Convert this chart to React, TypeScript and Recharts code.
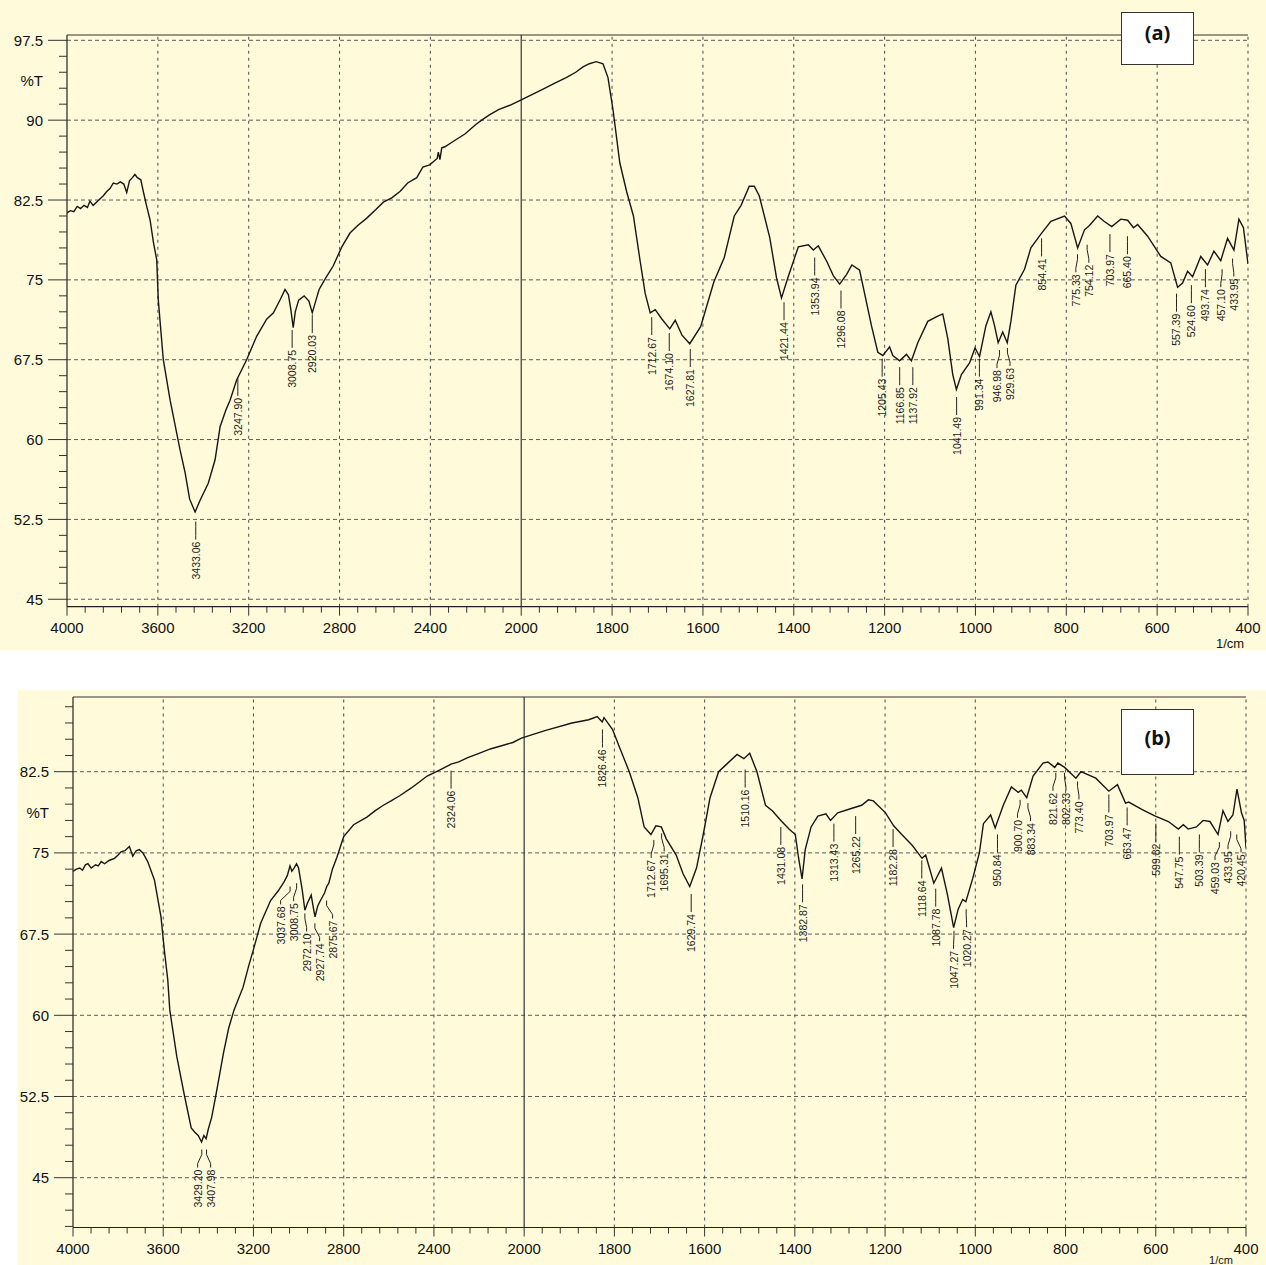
import React from 'react';
import { ComposedChart, Line, Scatter, XAxis, YAxis, ReferenceLine, ReferenceDot } from 'recharts';

// ---------------- data ----------------
const xTickWavenumbers = [4000, 3600, 3200, 2800, 2400, 2000, 1800, 1600, 1400, 1200, 1000, 800, 600, 400];
const topYTicks = [45, 52.5, 60, 67.5, 75, 82.5, 90, 97.5];
const bottomYTicks = [45, 52.5, 60, 67.5, 75, 82.5];

const topWavenumber = [4000,3985,3970,3955,3940,3925,3910,3899,3885,3870,3855,3840,3825,3810,3796,3780,3765,3750,3737,3725,3712,3701,3690,3675,3664,3650,3634,3620,3605,3598,3576,3546,3502,3480,3460,3436,3414,3378,3348,3326,3300,3282,3253,3209,3165,3121,3091,3060,3040,3025,3015,3004,2995,2980,2956,2935,2920,2905,2890,2860,2828,2790,2754,2720,2680,2640,2607,2570,2534,2500,2460,2433,2403,2370,2365,2358,2350,2336,2300,2248,2200,2174,2140,2100,2050,2000,1953,1925,1901,1880,1864,1850,1835,1820,1809,1798,1783,1768,1753,1738,1727,1716,1705,1690,1673,1661,1646,1629,1605,1576,1553,1531,1516,1498,1487,1476,1453,1438,1427,1413,1390,1368,1357,1346,1327,1313,1299,1284,1272,1255,1244,1229,1215,1204,1189,1182,1167,1152,1141,1127,1105,1083,1072,1061,1050,1042,1031,1013,1001,991,977,966,958,950,940,930,922,911,892,878,856,834,804,790,775,760,749,731,717,700,680,665,652,643,621,592,570,555,544,533,522,504,489,475,460,445,431,420,410,400];
const topTransmittance = [81.3,81.5,81.4,81.9,81.7,82.0,81.8,82.4,82.0,82.3,82.6,82.9,83.3,83.6,84.1,84.0,84.2,84.0,83.2,84.3,84.6,84.9,84.6,84.4,83.3,82.0,80.6,78.6,76.9,73.1,67.5,63.7,59.0,56.9,54.4,53.2,54.3,55.9,58.1,61.2,62.8,63.7,65.6,67.5,69.7,71.3,71.9,73.2,74.1,73.6,72.3,70.5,72.0,73.1,73.5,73.0,71.9,73.0,74.1,75.2,76.3,78.1,79.4,80.1,80.8,81.6,82.3,82.7,83.3,84.1,84.6,85.6,85.8,86.4,87.0,86.3,87.4,87.5,88.0,88.7,89.6,90.0,90.5,91.0,91.4,91.9,92.9,93.5,94.0,94.5,95.0,95.3,95.5,95.3,94.0,91.0,86.0,83.3,81.0,76.7,73.7,71.9,72.2,71.3,70.4,71.2,69.8,69.0,70.6,74.8,77.1,81.0,82.0,83.8,83.8,82.9,79.0,75.2,73.3,75.2,78.1,78.3,77.8,78.2,76.7,75.4,74.6,75.5,76.4,75.9,73.7,70.7,68.2,67.9,68.7,67.9,67.4,68.0,67.4,69.1,71.1,71.6,71.8,69.5,66.1,64.7,66.1,67.2,68.6,67.8,70.7,72.0,70.7,69.1,70.1,69.1,71.1,74.5,76.0,78.0,79.3,80.5,81.0,80.3,78.0,79.7,80.1,81.0,80.5,80.0,80.7,80.6,79.9,80.2,79.1,77.2,76.6,74.3,74.7,75.8,75.3,77.2,76.4,77.7,76.8,78.9,77.8,80.7,79.9,76.5];

const topPeakWavenumber = [3433.06,3247.90,3008.75,2920.03,1712.67,1674.10,1627.81,1421.44,1353.94,1296.08,1205.43,1166.85,1137.92,1041.49,991.34,946.98,929.63,854.41,775.33,754.12,703.97,665.40,557.39,524.60,493.74,457.10,433.95];
const topPeakLineT = [52.3,65.8,70.3,71.7,71.5,70.0,68.5,72.9,77.1,74.0,67.6,66.8,66.8,64.0,67.6,68.4,68.6,78.9,77.4,78.3,79.3,79.1,73.7,74.5,76.0,76.0,77.0];

const bottomWavenumber = [4000,3985,3970,3958,3945,3934,3919,3900,3888,3875,3860,3840,3816,3800,3787,3770,3750,3735,3720,3706,3690,3669,3639,3610,3595,3580,3571,3540,3508,3476,3460,3445,3430,3420,3410,3400,3385,3365,3333,3310,3286,3246,3222,3197,3168,3124,3090,3065,3050,3038,3030,3020,3009,3000,2984,2972,2960,2944,2935,2927,2915,2903,2885,2875,2866,2850,2830,2800,2756,2697,2660,2624,2590,2550,2500,2462,2430,2400,2360,2324,2290,2250,2200,2150,2100,2050,2012,1954,1894,1857,1838,1827,1823,1804,1790,1767,1748,1734,1719,1708,1696,1685,1663,1648,1633,1618,1603,1588,1569,1551,1528,1513,1500,1484,1465,1450,1431,1413,1399,1392,1384,1377,1364,1349,1331,1321,1305,1275,1252,1237,1226,1199,1181,1163,1140,1118,1110,1092,1075,1062,1048,1038,1028,1021,1006,991,982,966,956,938,920,905,898,886,872,850,839,824,817,802,777,766,733,704,685,667,660,630,601,572,550,539,528,510,495,480,462,451,440,429,420,410,404,400];
const bottomTransmittance = [73.3,73.5,73.6,73.4,73.9,74.0,73.6,73.9,73.8,74.2,74.0,74.3,74.5,74.8,75.1,75.2,75.6,74.7,75.2,75.3,75.0,74.2,72.5,69.1,66.0,63.3,60.5,56.2,52.8,49.6,49.2,48.9,48.3,48.9,48.6,49.5,50.6,52.8,56.5,58.8,60.5,62.6,64.5,66.3,68.5,70.6,71.5,72.3,72.9,73.8,73.3,73.6,74.0,73.6,71.6,69.7,70.4,71.1,70.0,69.1,70.1,70.6,71.3,71.9,72.2,73.5,74.6,76.5,77.6,78.3,78.9,79.4,79.8,80.3,81.0,81.6,82.1,82.4,82.8,83.2,83.4,83.8,84.2,84.6,84.9,85.2,85.6,86.3,87.0,87.3,87.6,87.1,87.5,86.4,84.9,82.5,80.1,77.4,76.7,77.5,77.4,76.3,74.8,73.1,71.9,73.6,76.7,80.1,82.5,83.2,84.1,83.7,84.2,82.5,79.4,78.9,78.0,77.2,76.7,74.6,72.6,75.3,77.4,78.4,78.6,78.0,78.7,79.1,79.4,79.9,79.8,78.7,77.5,76.7,75.7,74.5,74.8,72.2,73.6,71.2,68.1,69.8,70.7,70.5,72.6,75.0,77.7,78.5,77.3,79.4,81.1,80.6,80.8,80.1,82.1,83.3,83.4,82.9,83.3,82.9,81.9,82.5,81.9,80.7,81.3,79.6,79.7,79.0,78.4,77.9,77.2,77.6,77.2,77.4,78.0,77.9,76.7,78.9,77.9,78.5,80.9,78.7,78.0,75.5];

const bottomPeakWavenumber = [3429.20,3407.98,3037.68,3008.75,2972.10,2927.74,2875.67,2324.06,1826.46,1712.67,1695.31,1629.74,1510.16,1431.08,1382.87,1313.43,1265.22,1182.28,1118.64,1087.78,1047.27,1020.27,950.84,900.70,883.34,821.62,802.33,773.40,703.97,663.47,599.82,547.75,503.39,459.03,433.95,420.45];
const bottomPeakLineT = [47.6,47.6,71.9,72.2,69.4,68.5,70.6,82.6,86.4,76.2,76.8,71.2,82.7,77.4,72.1,77.7,78.4,77.2,74.3,71.7,67.8,69.8,76.7,79.9,79.6,82.4,82.4,81.6,80.4,79.2,77.7,76.5,76.7,76.0,77.0,76.7];

// ---------------- axis mapping (instrument's split abscissa) ----------------
const U_MAX = 2600;
const toAxis = (w: number) => (w >= 2000 ? (4000 - w) / 2 : 1000 + (2000 - w));
const fromAxis = (u: number) => (u <= 1000 ? 4000 - 2 * u : 2000 - (u - 1000));

const xMajorU = xTickWavenumbers.map(toAxis);
const xAllTicks: number[] = [];
for (let i = 0; i <= U_MAX / 40; i++) xAllTicks.push(i * 40);

const FONT = '"Liberation Sans", Arial, Helvetica, sans-serif';
const BG = '#FFFBDA';
const INK = '#161616';
const GRID = '#5a5a5a';

function yTickList(yMin: number, yMax: number) {
  const out: number[] = [];
  for (let i = -10; i <= 45; i++) {
    const v = Math.round((45 + 1.5 * i) * 100) / 100;
    if (v >= yMin - 1e-9 && v <= yMax + 1e-9) out.push(v);
  }
  return out;
}

function spread(us: number[], gap: number, maxU: number) {
  const idx = us.map((_, i) => i).sort((a, b) => us[a] - us[b]);
  const pos = idx.map((i) => us[i]);
  for (let it = 0; it < 300; it++) {
    let moved = false;
    for (let j = 0; j < pos.length - 1; j++) {
      const d = pos[j + 1] - pos[j];
      if (d < gap - 0.01) {
        const s = (gap - d) / 2;
        pos[j] -= s;
        pos[j + 1] += s;
        moved = true;
      }
    }
    const last = pos.length - 1;
    if (pos[last] > maxU) {
      pos[last] = maxU;
      moved = true;
    }
    if (!moved) break;
  }
  const out: number[] = new Array(us.length);
  idx.forEach((i, j) => (out[i] = pos[j]));
  return out;
}

type Cfg = {
  height: number;
  plotTop: number;
  plotBottom: number;
  plotLeft: number;
  plotRight: number;
  yMin: number;
  yMax: number;
  pctT: number;
  unitDy: number;
  unitDx: number;
  unitSize: number;
};

const TOP_CFG: Cfg = { height: 650, plotTop: 35, plotBottom: 606.7, plotLeft: 67, plotRight: 1248, yMin: 44.3, yMax: 98.0, pctT: 93.75, unitDy: 41, unitDx: -18, unitSize: 13 };
const BOT_CFG: Cfg = { height: 575, plotTop: 7, plotBottom: 537.5, plotLeft: 73, plotRight: 1246, yMin: 40.4, yMax: 89.4, pctT: 78.75, unitDy: 36.5, unitDx: -25, unitSize: 11 };

function Panel({ cfg, wn, tr, peaks, peakT, yMajor }: { cfg: Cfg; wn: number[]; tr: number[]; peaks: number[]; peakT: number[]; yMajor: number[] }) {
  const W = 1266;
  const data = wn.map((w, i) => ({ u: toAxis(w), t: tr[i] }));
  const k = (cfg.plotRight - cfg.plotLeft) / U_MAX;
  const textU = spread(peaks.map(toAxis), 13 / k, U_MAX - 5 / k);
  const labels = peaks.map((w, i) => ({ u: toAxis(w), t: peakT[i], dx: (textU[i] - toAxis(w)) * k, text: w.toFixed(2) }));
  const yTicks = yTickList(cfg.yMin, cfg.yMax);

  const YTick = (p: any) => {
    const { x, y, payload } = p;
    const v = payload.value;
    const major = yMajor.some((m) => Math.abs(m - v) < 1e-6);
    return (
      <g>
        <line x1={x - (major ? 19 : 8)} x2={x} y1={y} y2={y} stroke="#333" strokeWidth={1} />
        {major && (
          <text x={x - 24} y={y} textAnchor="end" dominantBaseline="central" fontSize={15} fontFamily={FONT} fill="#111">
            {String(v)}
          </text>
        )}
      </g>
    );
  };

  const XTick = (p: any) => {
    const { x, y, payload } = p;
    const u = payload.value;
    const major = xMajorU.some((m) => Math.abs(m - u) < 1e-6);
    return (
      <g>
        <line x1={x} x2={x} y1={y} y2={y + (major ? 9 : 6)} stroke="#333" strokeWidth={1} />
        {major && (
          <text x={x} y={y + 21} textAnchor="middle" dominantBaseline="central" fontSize={15} fontFamily={FONT} fill="#111">
            {String(Math.round(fromAxis(u)))}
          </text>
        )}
        {major && u === U_MAX && (
          <text x={x + cfg.unitDx} y={y + cfg.unitDy} textAnchor="middle" fontSize={cfg.unitSize} fontFamily={FONT} fill="#111">
            1/cm
          </text>
        )}
      </g>
    );
  };

  const PeakLabel = (p: any) => {
    const { cx, cy, payload } = p;
    if (cx == null || cy == null) return <g />;
    const L = 18;
    const tx = cx + payload.dx;
    return (
      <g>
        <polyline points={`${cx},${cy} ${cx},${cy + 5} ${tx},${cy + L - 4} ${tx},${cy + L}`} fill="none" stroke="#222" strokeWidth={1} />
        <text
          x={tx}
          y={cy + L + 2}
          transform={`rotate(-90 ${tx} ${cy + L + 2})`}
          textAnchor="end"
          dominantBaseline="central"
          fontSize={10.5}
          fontFamily={FONT}
          fill="#1a1a1a"
        >
          {payload.text}
        </text>
      </g>
    );
  };

  const vGrid = xMajorU.filter((u) => u !== 0 && u !== 1000);

  return (
    <ComposedChart
      width={W}
      height={cfg.height}
      margin={{ top: cfg.plotTop, right: W - cfg.plotRight, bottom: 0, left: 0 }}
    >
      <XAxis
        dataKey="u"
        type="number"
        domain={[0, U_MAX]}
        ticks={xAllTicks}
        interval={0}
        tickSize={0}
        tickMargin={0}
        tick={XTick}
        height={cfg.height - cfg.plotBottom}
        axisLine={{ stroke: '#222', strokeWidth: 1.2 }}
        allowDataOverflow
      />
      <YAxis
        type="number"
        domain={[cfg.yMin, cfg.yMax]}
        ticks={yTicks}
        interval={0}
        tickSize={0}
        tickMargin={0}
        tick={YTick}
        width={cfg.plotLeft}
        axisLine={{ stroke: '#222', strokeWidth: 1.2 }}
        allowDataOverflow
      />
      {yMajor.map((v) => (
        <ReferenceLine key={'h' + v} y={v} stroke={GRID} strokeDasharray="4 3" strokeWidth={1} />
      ))}
      {vGrid.map((u) => (
        <ReferenceLine key={'v' + u} x={u} stroke={GRID} strokeDasharray="3 4" strokeWidth={1.1} />
      ))}
      <ReferenceLine x={1000} stroke="#333" strokeWidth={1.2} />
      <ReferenceLine y={cfg.yMax} stroke="#333" strokeWidth={1.2} />
      <ReferenceDot
        x={0}
        y={cfg.pctT}
        r={0}
        ifOverflow="visible"
        shape={(p: any) => (
          <text x={p.cx - 24} y={p.cy} textAnchor="end" dominantBaseline="central" fontSize={15} fontFamily={FONT} fill="#111">
            %T
          </text>
        )}
      />
      <Line data={data} dataKey="t" type="linear" stroke={INK} strokeWidth={1.4} dot={false} isAnimationActive={false} />
      <Scatter data={labels} dataKey="t" shape={PeakLabel} isAnimationActive={false} />
    </ComposedChart>
  );
}

const tagBox: React.CSSProperties = {
  position: 'absolute',
  width: 73,
  background: '#fff',
  border: '1.5px solid #333',
  boxSizing: 'border-box',
  fontFamily: '"Open Sans", "Liberation Sans", Arial, sans-serif',
  fontWeight: 700,
  fontSize: 20,
  textAlign: 'center',
  color: '#111',
};

export default function App() {
  return (
    <div style={{ position: 'absolute', left: 0, top: 0, width: 1266, height: 1265, background: '#fff', overflow: 'hidden' }}>
      <div style={{ position: 'absolute', left: 0, top: 0, width: 1266, height: 650, background: BG }} />
      <div style={{ position: 'absolute', left: 18, top: 690, width: 1248, height: 575, background: BG }} />
      <div style={{ position: 'absolute', left: 0, top: 0 }}>
        <Panel cfg={TOP_CFG} wn={topWavenumber} tr={topTransmittance} peaks={topPeakWavenumber} peakT={topPeakLineT} yMajor={topYTicks} />
      </div>
      <div style={{ position: 'absolute', left: 0, top: 690 }}>
        <Panel cfg={BOT_CFG} wn={bottomWavenumber} tr={bottomTransmittance} peaks={bottomPeakWavenumber} peakT={bottomPeakLineT} yMajor={bottomYTicks} />
      </div>
      <div style={{ ...tagBox, left: 1121, top: 12, height: 53, lineHeight: '40px' }}>(a)</div>
      <div style={{ ...tagBox, left: 1121, top: 709, height: 66, lineHeight: '56px' }}>(b)</div>
    </div>
  );
}
